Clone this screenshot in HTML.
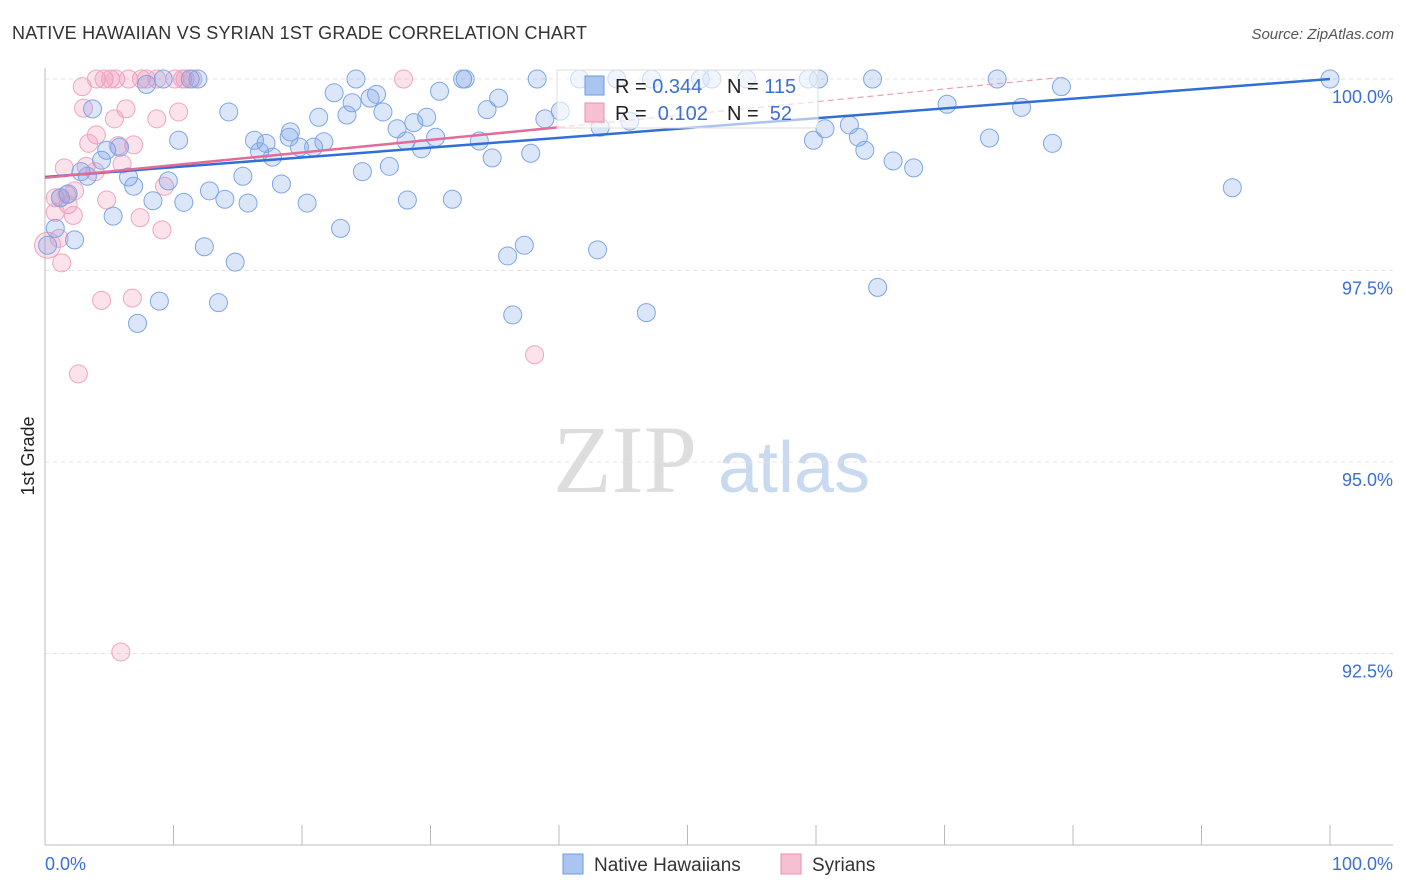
<!DOCTYPE html>
<html><head><meta charset="utf-8"><style>
body{margin:0;background:#fff;font-family:"Liberation Sans",sans-serif;}
#wrap{position:relative;width:1406px;height:892px;overflow:hidden;}
</style></head><body><div id="wrap">
<svg id="svg" width="1406" height="892" xmlns="http://www.w3.org/2000/svg">
<text x="12" y="39" font-size="18" fill="#333" textLength="575">NATIVE HAWAIIAN VS SYRIAN 1ST GRADE CORRELATION CHART</text>
<text x="1394" y="39" font-size="15" fill="#555" font-style="italic" text-anchor="end">Source: ZipAtlas.com</text>
<text x="34" y="456" font-size="18" fill="#222" transform="rotate(-90 34 456)" text-anchor="middle">1st Grade</text>
<text x="553" y="492" font-size="96" fill="#ddd" font-family="Liberation Serif,serif">ZIP</text>
<text x="718" y="492" font-size="72" fill="#c9d9ef">atlas</text>
<g id="grid"></g><g id="axes"></g><g id="pink"></g><g id="blue"></g><g id="lines"></g>
<g>
<rect x="557" y="70" width="261" height="58" fill="#fff" fill-opacity="0.6" stroke="#ddd"/>
<rect x="585" y="76" width="19" height="19" fill="#aac6f0" stroke="#6a9be0"/>
<rect x="585" y="103" width="19" height="19" fill="#f7bfd2" stroke="#e890b0"/>
<text x="615" y="93" font-size="20" fill="#222">R = <tspan fill="#3b6fd4">0.344</tspan></text>
<text x="727" y="93" font-size="20" fill="#222">N = <tspan fill="#3b6fd4">115</tspan></text>
<text x="615" y="120" font-size="20" fill="#222">R = &#160;<tspan fill="#3b6fd4">0.102</tspan></text>
<text x="727" y="120" font-size="20" fill="#222">N = &#160;<tspan fill="#3b6fd4">52</tspan></text>
</g>
<g>
<rect x="563" y="854" width="20" height="20" fill="#aac6f0" stroke="#6a9be0"/>
<text x="594" y="871" font-size="19" fill="#333">Native Hawaiians</text>
<rect x="781" y="854" width="20" height="20" fill="#f7bfd2" stroke="#e890b0"/>
<text x="812" y="871" font-size="19" fill="#333">Syrians</text>
</g>
</svg></div>
<script>
const yTicks=[100,97.5,95,92.5];
const yTickLabels=["100.0%","97.5%","95.0%","92.5%"];
const xLabels=["0.0%","100.0%"];
const blueX=[7.9,9.2,11.3,11.9,24.2,32.5,32.7,38.3,41.6,44.5,47.2,51.0,51.9,54.6,59.4,60.2,64.4,74.1,79.1,100,
3.7,14.3,22.5,23.9,25.8,25.3,30.7,35.3,34.4,26.3,21.3,23.5,29.7,28.7,27.4,40.1,38.9,43.2,45.5,70.2,76.0,
10.4,16.3,17.2,19.1,19.0,19.8,20.9,21.7,16.7,17.7,28.1,30.4,29.3,33.8,34.8,37.8,26.8,24.7,4.4,4.8,5.8,59.8,60.7,62.6,63.3,63.8,66.0,67.6,73.5,78.4,
2.8,3.3,6.5,6.9,9.6,15.4,18.4,12.8,14.0,15.8,10.8,8.4,20.4,28.2,31.7,5.3,1.8,1.2,92.4,
0.8,2.3,0.2,12.4,23.0,14.8,36.0,37.3,43.0,64.8,8.9,13.5,7.2,36.4,46.8];
const blueY=[99.93,100,100,100,100,100,100,100,100,100,100,100,100,100,100,100,100,100,99.9,100,
99.61,99.57,99.82,99.69,99.80,99.75,99.84,99.75,99.60,99.57,99.50,99.53,99.50,99.43,99.35,99.58,99.48,99.37,99.45,99.67,99.63,
99.20,99.20,99.16,99.31,99.24,99.11,99.11,99.18,99.05,98.98,99.19,99.24,99.09,99.19,98.97,99.03,98.86,98.79,98.94,99.07,99.11,99.20,99.35,99.40,99.24,99.07,98.93,98.84,99.23,99.16,
98.79,98.73,98.72,98.60,98.67,98.73,98.63,98.54,98.43,98.38,98.39,98.41,98.38,98.42,98.43,98.21,98.50,98.45,98.58,
98.05,97.90,97.83,97.81,98.05,97.61,97.69,97.83,97.77,97.28,97.10,97.08,96.81,96.92,96.95];
const pinkX=[2.9,4.0,4.6,5.1,5.5,6.5,7.5,7.9,8.7,10.1,10.7,10.9,11.5,27.9,
3.0,6.3,10.4,8.7,5.4,4.0,3.4,6.9,5.7,1.5,3.2,6.0,3.9,
0.8,1.2,1.7,2.3,1.8,0.8,2.2,4.8,7.4,9.1,9.3,
1.1,1.3,0.2,4.4,6.8,2.6,38.1,5.9];
const pinkY=[99.9,100,100,100,100,100,100,100,100,100,100,100,100,100,
99.62,99.61,99.57,99.48,99.48,99.27,99.16,99.14,99.13,98.84,98.86,98.89,98.79,
98.45,98.45,98.49,98.54,98.36,98.26,98.22,98.42,98.19,98.03,98.60,
97.92,97.60,97.83,97.11,97.14,96.15,96.40,92.52];
const blueTrend=[98.72,100];
const pinkTrend=[98.71,99.37,100.02];
const pinkTrendX=[0,40,79];

const X0=45,X1=1330,YT=79,YB=845;
const sx=v=>X0+(X1-X0)*v/100;
const sy=v=>YT+(100-v)*(YB-YT)/10;
const NS="http://www.w3.org/2000/svg";
function mk(tag,attrs,parent){const e=document.createElementNS(NS,tag);for(const k in attrs)e.setAttribute(k,attrs[k]);document.getElementById(parent).appendChild(e);return e;}
yTicks.forEach((t,i)=>{
 const l=mk('line',{x1:X0,x2:1393,y1:sy(t),y2:sy(t),stroke:'#e3e3e3','stroke-dasharray':'4,4'},'grid');
 
 
 const tx=mk('text',{x:1393,y:sy(t)+24,'font-size':18,fill:'#3b6fd4','text-anchor':'end'},'axes');
 tx.textContent=yTickLabels[i];
 
 
});
const ax=mk('line',{x1:X0,x2:1393,y1:YB,y2:YB,stroke:'#bbb'},'axes');


const ay=mk('line',{x1:X0,x2:X0,y1:68,y2:YB,stroke:'#bbb'},'axes');


for(let i=0;i<=10;i++){
 const t=mk('line',{x1:sx(i*10),x2:sx(i*10),y1:YB,y2:YB-20,stroke:'#bbb'},'axes');
 
 
}
[[0,'start',45],[100,'end',1393]].forEach((d,i)=>{
 const tx=mk('text',{x:d[2],y:870,'font-size':18,fill:'#3b6fd4','text-anchor':d[1]},'axes');
 tx.textContent=xLabels[i];
 
 
});
pinkX.forEach((x,i)=>{
 const c=mk('circle',{cx:sx(x),cy:sy(pinkY[i]),r:(x<0.5?13:9),fill:'rgba(240,140,175,0.25)',stroke:'#eea6c1','stroke-width':1},'pink');
 
 
});
blueX.forEach((x,i)=>{
 const c=mk('circle',{cx:sx(x),cy:sy(blueY[i]),r:9,fill:'rgba(110,155,230,0.25)',stroke:'#7ea6e6','stroke-width':1},'blue');
 
 
});
const bl=mk('line',{x1:sx(0),y1:sy(blueTrend[0]),x2:sx(100),y2:sy(blueTrend[1]),stroke:'#2f6fd6','stroke-width':2.5},'lines');


const pl=mk('line',{x1:sx(pinkTrendX[0]),y1:sy(pinkTrend[0]),x2:sx(pinkTrendX[1]),y2:sy(pinkTrend[1]),stroke:'#e46a98','stroke-width':2.5},'lines');


const pd=mk('line',{x1:sx(pinkTrendX[1]),y1:sy(pinkTrend[1]),x2:sx(pinkTrendX[2]),y2:sy(pinkTrend[2]),stroke:'#eaa0bc','stroke-width':1.2,'stroke-dasharray':'6,4'},'lines');


</script></body></html>
